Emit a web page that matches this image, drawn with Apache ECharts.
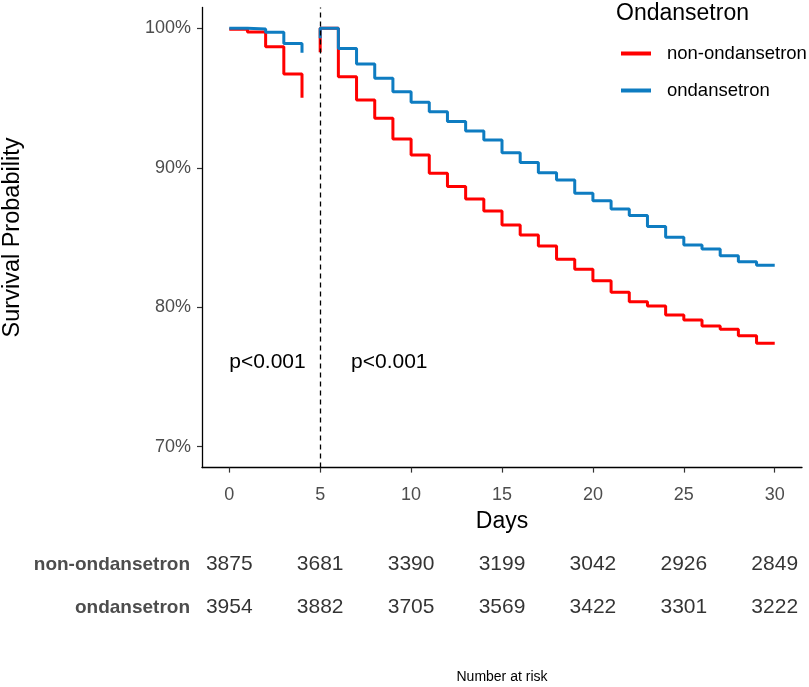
<!DOCTYPE html>
<html>
<head>
<meta charset="utf-8">
<script src="https://cdn.jsdelivr.net/npm/echarts@6/dist/echarts.min.js"></script>
<style>
html,body{margin:0;padding:0;background:#fff;}
#chart{width:809px;height:687px;}
</style>
</head>
<body>
<div id="chart"></div>
<script>
// ---- data ----
const groups = ['non-ondansetron', 'ondansetron'];
const colors = ['#FF0000', '#0E7CC1'];

// first window (days 0-4)
const days1 = [0, 1, 2, 3, 4];
const nonOnd1 = [99.93, 99.73, 98.68, 96.72, 95.03];
const ond1 = [100.0, 99.95, 99.71, 98.92, 98.25];

// landmark window (days 5-30)
const days2 = [5, 5, 6, 7, 8, 9, 10, 11, 12, 13, 14, 15, 16, 17, 18, 19, 20, 21, 22, 23, 24, 25, 26, 27, 28, 29, 30];
const nonOnd2 = [98.28, 100, 96.53, 94.86, 93.55, 92.07, 90.92, 89.61, 88.65, 87.76, 86.90, 85.90, 85.18, 84.39, 83.44, 82.72, 81.89, 81.08, 80.40, 80.09, 79.45, 79.09, 78.66, 78.42, 77.96, 77.42, 77.42];
const ond2 = [99.28, 100, 98.56, 97.44, 96.42, 95.46, 94.70, 94.02, 93.31, 92.64, 91.99, 91.08, 90.37, 89.65, 89.13, 88.17, 87.64, 87.05, 86.57, 85.78, 85.02, 84.47, 84.18, 83.70, 83.27, 83.01, 83.01];

const xTicks = [0, 5, 10, 15, 20, 25, 30];
const yTicks = [70, 80, 90, 100];
const landmarkDay = 5;
const pValueText = 'p<0.001';

// number at risk
const riskTimes = [0, 5, 10, 15, 20, 25, 30];
const riskNonOnd = [3875, 3681, 3390, 3199, 3042, 2926, 2849];
const riskOnd = [3954, 3882, 3705, 3569, 3422, 3301, 3222];

// ---- build ----
const zip = (xs, ys) => xs.map((x, i) => [x, ys[i]]);
const FONT = 'Liberation Sans, Arial, sans-serif';

function stepSeries(name, color, data, extra) {
  return Object.assign({
    name: name,
    type: 'line',
    step: 'end',
    xAxisIndex: 0, yAxisIndex: 0,
    data: data,
    showSymbol: false,
    symbol: 'none',
    lineStyle: { color: color, width: 3 },
    itemStyle: { color: color },
    animation: false,
    silent: true
  }, extra || {});
}

const riskData = [];
riskTimes.forEach((t, i) => {
  riskData.push([t, groups[0], riskNonOnd[i]]);
  riskData.push([t, groups[1], riskOnd[i]]);
});

const chart = echarts.init(document.getElementById('chart'), null, { renderer: 'canvas' });

const option = {
  backgroundColor: '#fff',
  animation: false,
  textStyle: { fontFamily: FONT },
  title: {
    text: 'Ondansetron',
    left: 616, top: 2, padding: 0,
    textStyle: { fontFamily: FONT, fontSize: 23, fontWeight: 'normal', color: '#000' }
  },
  legend: {
    data: groups,
    orient: 'vertical',
    left: 621, top: 44, padding: 0,
    icon: 'rect',
    itemWidth: 30, itemHeight: 4,
    itemGap: 18,
    selectedMode: false,
    textStyle: { fontFamily: FONT, fontSize: 18.5, color: '#000', padding: [0, 0, 0, 11] }
  },
  grid: [
    { left: 202, right: 7, top: 7.4, height: 460.2, outerBoundsMode: 'none', containLabel: false },
    { left: 202, right: 7, top: 543, height: 86, outerBoundsMode: 'none', containLabel: false }
  ],
  xAxis: [
    {
      gridIndex: 0, type: 'value', min: -1.5, max: 31.5,
      name: 'Days', nameLocation: 'middle', nameGap: 43,
      nameTextStyle: { fontFamily: FONT, fontSize: 23, color: '#000' },
      axisLine: { show: true, onZero: false, lineStyle: { color: '#000', width: 1.3 } },
      axisTick: { show: true, length: 5, customValues: xTicks, lineStyle: { color: '#333', width: 1.2 } },
      axisLabel: { customValues: xTicks, margin: 18, fontFamily: FONT, fontSize: 18, color: '#4d4d4d' },
      splitLine: { show: false }
    },
    {
      gridIndex: 1, type: 'value', min: -1.5, max: 31.5,
      name: 'Number at risk', nameLocation: 'middle', nameGap: 41,
      nameTextStyle: { fontFamily: FONT, fontSize: 14, color: '#000' },
      axisLine: { show: false }, axisTick: { show: false }, axisLabel: { show: false },
      splitLine: { show: false }
    }
  ],
  yAxis: [
    {
      gridIndex: 0, type: 'value', min: 68.5, max: 101.5,
      name: 'Survival Probability', nameLocation: 'middle', nameGap: 177,
      nameTextStyle: { fontFamily: FONT, fontSize: 23.5, color: '#000' },
      axisLine: { show: true, onZero: false, lineStyle: { color: '#000', width: 1.3 } },
      axisTick: { show: true, length: 5, customValues: yTicks, lineStyle: { color: '#333', width: 1.2 } },
      axisLabel: { customValues: yTicks, margin: 11, fontFamily: FONT, fontSize: 18, color: '#4d4d4d', formatter: '{value}%' },
      splitLine: { show: false }
    },
    {
      gridIndex: 1, type: 'category', data: groups, inverse: true,
      axisLine: { show: false }, axisTick: { show: false }, splitLine: { show: false },
      axisLabel: { margin: 12, fontFamily: FONT, fontSize: 19, fontWeight: 'bold', color: '#4d4d4d' }
    }
  ],
  series: [
    stepSeries(groups[0], colors[0], zip(days1, nonOnd1)),
    stepSeries(groups[0], colors[0], zip(days2, nonOnd2), {
      markLine: {
        silent: true, symbol: 'none', animation: false,
        label: { show: false },
        lineStyle: { color: '#000', type: [5, 4], width: 1.3 },
        data: [{ xAxis: landmarkDay }]
      },
      markPoint: {
        silent: true, symbol: 'circle', symbolSize: 0, animation: false,
        label: { show: true, position: 'inside', formatter: pValueText, fontFamily: FONT, fontSize: 21, color: '#000' },
        data: [{ coord: [2.1, 76.07] }, { coord: [8.8, 76.07] }]
      }
    }),
    stepSeries(groups[1], colors[1], zip(days1, ond1)),
    stepSeries(groups[1], colors[1], zip(days2, ond2)),
    {
      type: 'scatter', name: 'risk',
      xAxisIndex: 1, yAxisIndex: 1,
      data: riskData, symbolSize: 0, silent: true, animation: false,
      label: {
        show: true, position: 'inside',
        formatter: p => String(p.value[2]),
        fontFamily: FONT, fontSize: 21, color: '#000'
      }
    }
  ]
};
chart.setOption(option);
</script>
</body>
</html>
